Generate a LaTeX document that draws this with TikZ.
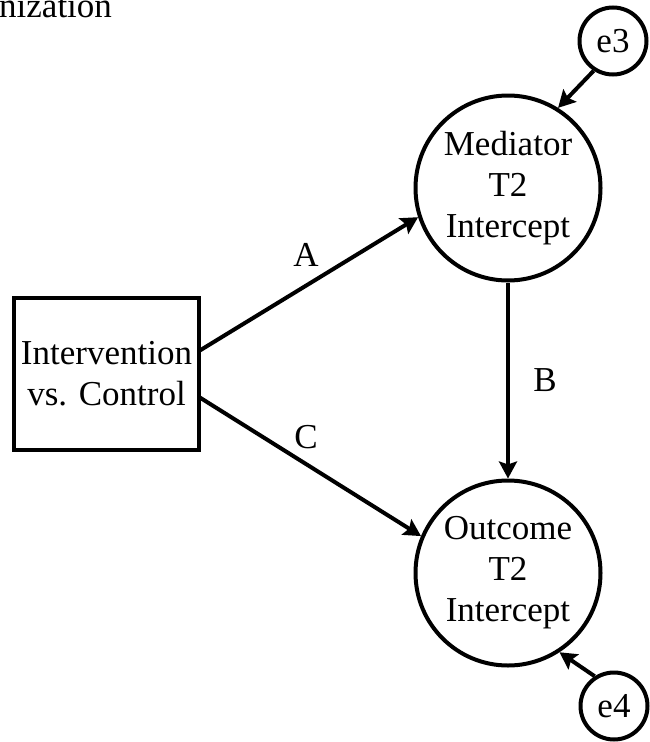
\documentclass[tikz,border=0pt]{standalone}
\usepackage{fontspec}
\setmainfont{Liberation Serif}
\usetikzlibrary{arrows.meta}
\begin{document}
\begin{tikzpicture}[x=1pt,y=-1pt,
  txt/.style={font=\fontsize{35}{41}\selectfont, align=center, inner sep=0pt},
  var/.style={txt, draw, line width=4pt, circle, minimum size=185pt},
  err/.style={txt, draw, line width=4pt, circle, minimum size=67pt},
  obs/.style={txt, draw, line width=4pt, rectangle, minimum width=185pt, minimum height=152pt},
  arr/.style={line width=4pt, -{Stealth[length=17pt,width=18pt,inset=3pt]}},
  lbl/.style={font=\fontsize{35}{41}\selectfont, inner sep=0pt}]
\useasboundingbox (0,0) rectangle (650,742);
\node[font=\fontsize{35}{41}\selectfont, inner sep=0pt, anchor=base west] (rnd) at (-1,17) {nization};
\node[obs] (iv) at (106.5,374) {Intervention\\vs. Control};
\node[var] (med) at (508,188) {Mediator\\T2\\Intercept};
\node[var] (out) at (508,573) {Outcome\\T2\\Intercept};
\node[err] (e3) at (613,41) {e3};
\node[err] (e4) at (614,706) {e4};
\coordinate (ia) at (199,351);
\coordinate (ic) at (199,397);
\draw[arr] (ia) -- (med.198);
\draw[arr] (ic) -- (out.157);
\draw[arr] (med) -- (out);
\draw[arr] (e3.237) -- (med.58);
\draw[arr] (e4.123) -- (out.-57);
\node[lbl] (la) at (306,255) {A};
\node[lbl] (lc) at (306,437) {C};
\node[lbl] (lb) at (545,380) {B};
\end{tikzpicture}
\end{document}
